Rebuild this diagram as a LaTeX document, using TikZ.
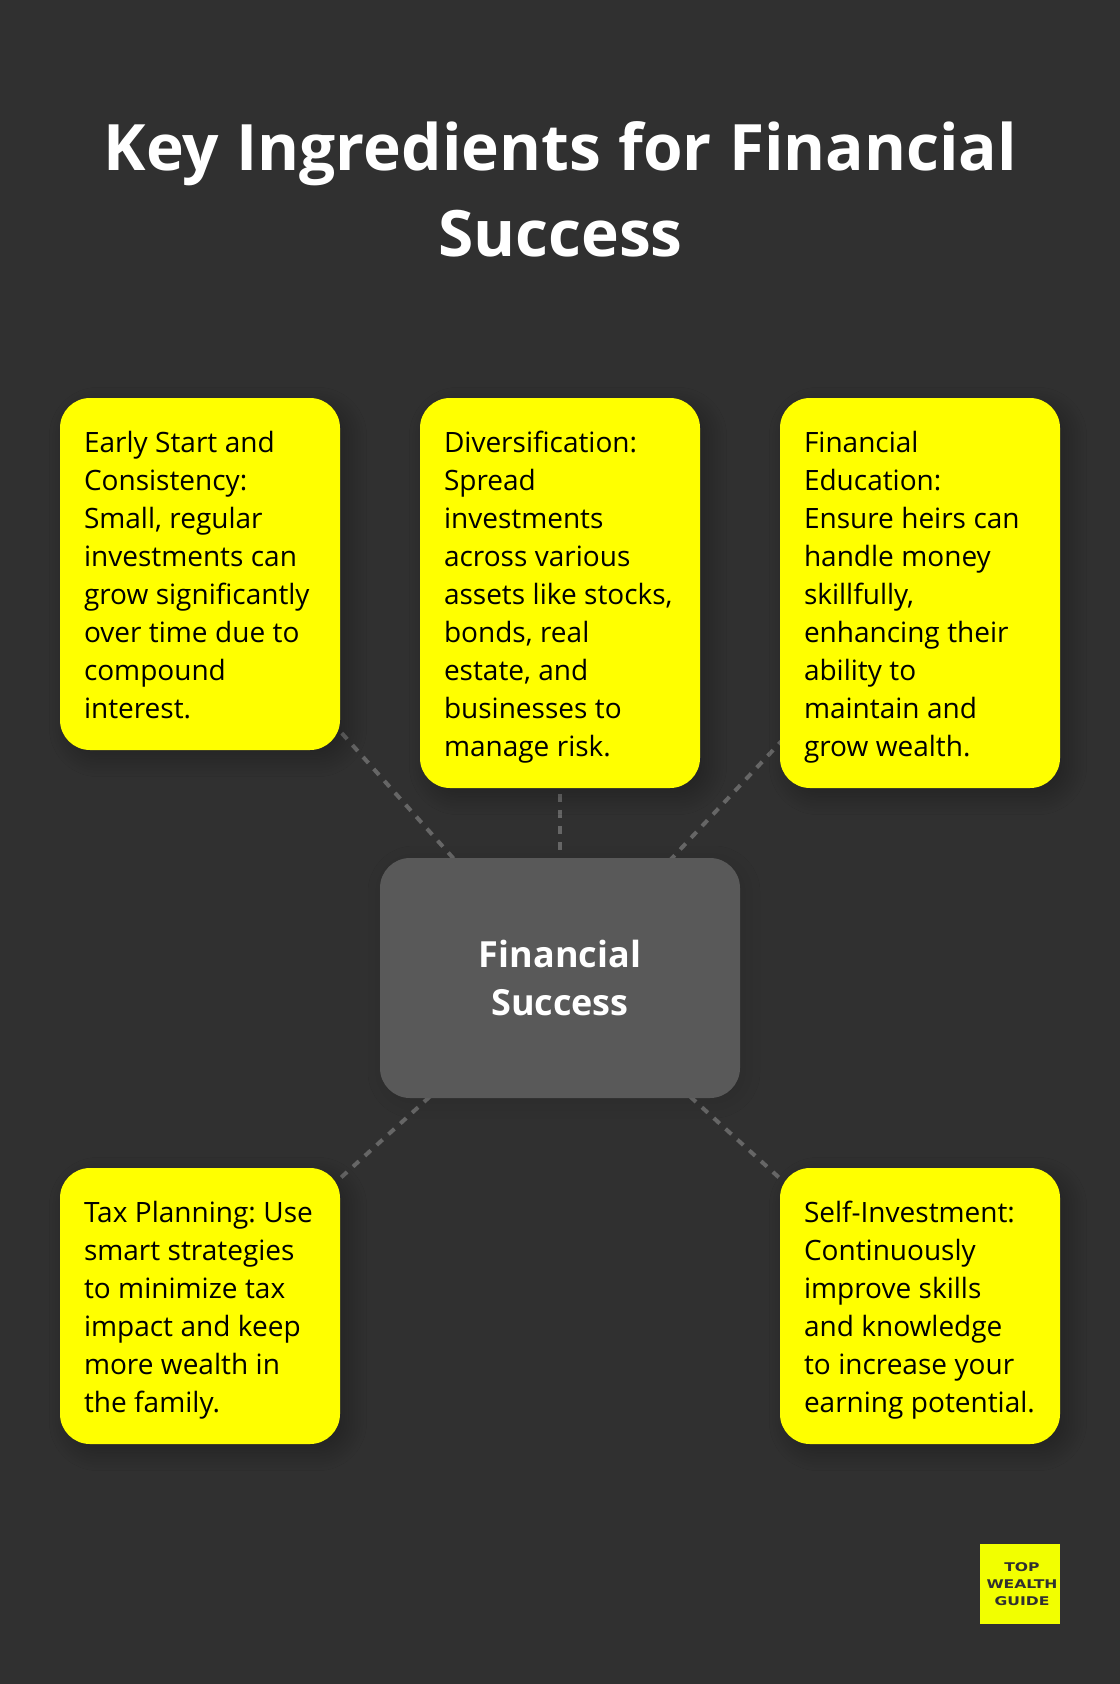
\documentclass[tikz,border=0pt]{standalone}
\usepackage{fontspec}
\setmainfont{Open Sans}
\newfontfamily\titlefont{Open Sans}[WordSpace=1.04]
\newfontfamily\logofont{DejaVu Sans}[FakeStretch=1.3]
\usetikzlibrary{backgrounds,shadows.blur}

\definecolor{pagegrey}{RGB}{48,48,48}
\definecolor{hubgrey}{RGB}{89,89,89}
\definecolor{linkgrey}{RGB}{102,102,102}
\definecolor{cardyellow}{RGB}{255,255,0}
\definecolor{logoyellow}{RGB}{242,255,0}

\newcommand{\cardstrut}{\rule[-0.19\baselineskip]{0pt}{\baselineskip}}

\tikzset{
  cardbox/.style={fill=cardyellow,rounded corners=22.5pt,minimum width=210pt,text width=174pt,inner xsep=18pt,inner ysep=0pt,align=left,
    font=\fontsize{21}{28.5}\selectfont,text=black,
    execute at begin node={\frenchspacing\spaceskip=5.6pt\rightskip=-30pt plus 1fil\cardstrut},execute at end node={\cardstrut},
    blur shadow={shadow xshift=6pt,shadow yshift=-6pt,shadow blur radius=14pt,shadow blur steps=14,shadow opacity=28}},
  hubbox/.style={fill=hubgrey,rounded corners=22.5pt,minimum width=270pt,minimum height=180pt,align=center,
    font=\fontsize{27}{36}\selectfont\bfseries,text=white,
    blur shadow={shadow xshift=3pt,shadow yshift=-3pt,shadow blur radius=12pt,shadow blur steps=12,shadow opacity=10}},
  linkline/.style={draw=linkgrey,line width=3pt,dash pattern=on 6pt off 6pt},
}

\begin{document}
\begin{tikzpicture}[x=0.75pt,y=0.75pt,yscale=-1,xscale=1]
\useasboundingbox (0,0) rectangle (1120,1684);

% Title
\node (title) at (560.5,189) [align=center,text=white,font=\titlefont\fontsize{48}{64.5}\selectfont\bfseries] {Key Ingredients for Financial\\Success};

% Hub
\node (hub) at (560,978) [hubbox] {\raisebox{-0.75pt}{Financial}\\\raisebox{-0.75pt}{Success}};

% Top row
\node (early) at (200,574) [cardbox,minimum height=264pt] {Early Start and\\Consistency:\\Small, regular\\investments can\\grow significantly\\over time due to\\compound\\interest.};
\node (divers) at (560,593) [cardbox,minimum height=292.5pt] {Diversification:\\Spread\\investments\\across various\\assets like stocks,\\bonds, real\\estate, and\\businesses to\\manage risk.};
\node (educ) at (920,593) [cardbox,minimum height=292.5pt] {Financial\\Education:\\Ensure heirs can\\handle money\\skillfully,\\enhancing their\\ability to\\maintain and\\grow wealth.};

% Bottom row
\node (tax) at (200,1306) [cardbox,minimum height=207pt] {Tax Planning: Use\\smart strategies\\to minimize tax\\impact and keep\\more wealth in\\the family.};
\node (self) at (920,1306) [cardbox,minimum height=207pt] {Self-Investment:\\Continuously\\improve skills\\and knowledge\\to increase your\\earning potential.};

% Logo
\node (logo) at (1020,1584) [fill=logoyellow,minimum width=60pt,minimum height=60pt,inner sep=0pt,align=center,text=pagegrey,font=\logofont\fontsize{9}{12.9}\selectfont\bfseries] {\hspace*{3pt}TOP\\\hspace*{3pt}WEALTH\\\hspace*{3pt}GUIDE};

% Links and page
\begin{scope}[on background layer]
\fill [pagegrey] (0,0) rectangle (1120,1684);
\foreach \cardname in {early,divers,educ,tax,self}
  \draw [linkline] (hub.center) -- (\cardname.center);
\end{scope}
\end{tikzpicture}
\end{document}
